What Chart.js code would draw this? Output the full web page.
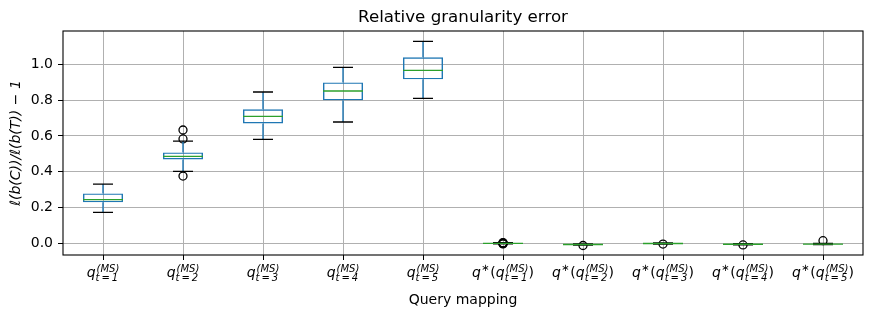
<!DOCTYPE html>
<html>
<head>
<meta charset="utf-8">
<script src="https://cdn.jsdelivr.net/npm/chart.js@4.4.1/dist/chart.umd.min.js"></script>
<style>
    body { margin: 0; background: #fff; }
    #wrap { width: 873px; height: 317px; }
</style>
</head>
<body>
<div id="wrap"><canvas id="granularityChart"></canvas></div>
<script>
// categories (query mappings) and tick label parts
const categories = ['q_t=1', 'q_t=2', 'q_t=3', 'q_t=4', 'q_t=5', 'q*(q_t=1)', 'q*(q_t=2)', 'q*(q_t=3)', 'q*(q_t=4)', 'q*(q_t=5)'];
const tickStep = ['1', '2', '3', '4', '5', '1', '2', '3', '4', '5'];
const tickWrapped = [false, false, false, false, false, true, true, true, true, true];
const yTicks = [0.0, 0.2, 0.4, 0.6, 0.8, 1.0];
const chartTitle = 'Relative granularity error';

// box plot statistics
const boxMin    = [0.173, 0.402, 0.581, 0.678, 0.810, -0.003, -0.009, -0.004, -0.008, -0.007];
const boxQ1     = [0.229, 0.469, 0.670, 0.799, 0.916, -0.001, -0.007, -0.002, -0.006, -0.005];
const boxMedian = [0.244, 0.486, 0.709, 0.851, 0.966,  0.000, -0.006, -0.001, -0.005, -0.004];
const boxQ3     = [0.279, 0.508, 0.749, 0.899, 1.039,  0.001, -0.005,  0.000, -0.004, -0.003];
const boxMax    = [0.331, 0.571, 0.845, 0.983, 1.128,  0.003, -0.003,  0.002, -0.002, -0.001];
const outliers  = [[], [0.633, 0.583, 0.376], [], [], [], [0.004, -0.003, 0.002, -0.001, 0.0], [-0.012], [-0.004], [-0.009], [0.015]];

const FONT = '"DejaVu Sans", sans-serif';
Chart.defaults.font.family = FONT;
Chart.defaults.color = '#000';

const flierPoints = [];
outliers.forEach((list, i) => list.forEach(v => flierPoints.push({ x: categories[i], y: v })));

// whiskers, caps and medians go on top of the box dataset
const boxExtras = {
    id: 'boxExtras',
    afterDatasetDraw(chart, args) {
        if (args.index !== 0) return;
        const ctx = chart.ctx;
        const xs = chart.scales.x, ys = chart.scales.y;
        const meta = chart.getDatasetMeta(0);
        ctx.save();
        ctx.lineCap = 'butt';
        categories.forEach((c, i) => {
            const x = xs.getPixelForValue(i);
            const half = meta.data[i].width / 2;
            // whiskers
            ctx.strokeStyle = '#1f77b4';
            ctx.lineWidth = 1.4;
            ctx.beginPath();
            ctx.moveTo(x, ys.getPixelForValue(boxQ3[i]));
            ctx.lineTo(x, ys.getPixelForValue(boxMax[i]));
            ctx.moveTo(x, ys.getPixelForValue(boxQ1[i]));
            ctx.lineTo(x, ys.getPixelForValue(boxMin[i]));
            ctx.stroke();
            // caps
            ctx.strokeStyle = '#000';
            ctx.beginPath();
            ctx.moveTo(x - half / 2, ys.getPixelForValue(boxMax[i]));
            ctx.lineTo(x + half / 2, ys.getPixelForValue(boxMax[i]));
            ctx.moveTo(x - half / 2, ys.getPixelForValue(boxMin[i]));
            ctx.lineTo(x + half / 2, ys.getPixelForValue(boxMin[i]));
            ctx.stroke();
            // median
            ctx.strokeStyle = '#2ca02c';
            ctx.beginPath();
            ctx.moveTo(x - half, ys.getPixelForValue(boxMedian[i]));
            ctx.lineTo(x + half, ys.getPixelForValue(boxMedian[i]));
            ctx.stroke();
        });
        ctx.restore();
    }
};

// axes frame on all four sides, title over the plot area and the math style x tick labels
const frameAndLabels = {
    id: 'frameAndLabels',
    afterDraw(chart) {
        const ctx = chart.ctx;
        const a = chart.chartArea;
        ctx.save();
        ctx.strokeStyle = '#000';
        ctx.lineWidth = 1.1;
        ctx.strokeRect(a.left, a.top, a.right - a.left, a.bottom - a.top);

        ctx.fillStyle = '#000';
        ctx.font = '16.7px ' + FONT;
        ctx.textAlign = 'center';
        ctx.textBaseline = 'alphabetic';
        ctx.fillText(chartTitle, (a.left + a.right) / 2, 22);

        const xs = chart.scales.x;
        const y = a.bottom + 22;
        categories.forEach((c, i) => drawTickLabel(ctx, xs.getPixelForValue(i), y, tickStep[i], tickWrapped[i]));
        ctx.restore();
    }
};

function drawTickLabel(ctx, cx, y, step, wrapped) {
    const big = 'italic 14px ' + FONT;
    const bigUp = '14px ' + FONT;
    const small = 'italic 10px ' + FONT;
    const smallUp = '10px ' + FONT;
    const sup = '(MS)';
    const sub = 't\u2009=\u2009' + step;

    const w = (font, t) => { ctx.font = font; return ctx.measureText(t).width; };
    const wq = w(big, 'q');
    const wScripts = Math.max(w(small, sup), w(small, sub));
    const wInner = wq + wScripts + 1;
    let total = wInner;
    let wStar = 0, wOpen = 0, wClose = 0;
    if (wrapped) {
        wStar = w(smallUp, '\u2217') + 1;
        wOpen = w(bigUp, '(');
        wClose = w(bigUp, ')');
        total = wq + wStar + wOpen + wInner + wClose;
    }
    let x = cx - total / 2;
    ctx.textAlign = 'left';
    if (wrapped) {
        ctx.font = big; ctx.fillText('q', x, y); x += wq;
        ctx.font = smallUp; ctx.fillText('\u2217', x, y - 6); x += wStar;
        ctx.font = bigUp; ctx.fillText('(', x, y); x += wOpen;
    }
    ctx.font = big; ctx.fillText('q', x, y); x += wq;
    ctx.font = small;
    ctx.fillText(sup, x + 1, y - 5);
    ctx.fillText(sub, x, y + 4);
    x += wScripts + 1;
    if (wrapped) {
        ctx.font = bigUp; ctx.fillText(')', x, y);
    }
}

new Chart(document.getElementById('granularityChart').getContext('2d'), {
    type: 'bar',
    data: {
        labels: categories,
        datasets: [{
            label: 'box',
            data: boxQ1.map((q, i) => [q, boxQ3[i]]),
            backgroundColor: 'rgba(0,0,0,0)',
            borderColor: '#1f77b4',
            borderWidth: 1.4,
            borderSkipped: false,
            barPercentage: 0.5,
            categoryPercentage: 1.0
        }, {
            type: 'line',
            label: 'fliers',
            data: flierPoints,
            showLine: false,
            pointStyle: 'circle',
            pointRadius: 4,
            pointBorderWidth: 1.3,
            pointBorderColor: '#000',
            pointBackgroundColor: 'rgba(0,0,0,0)'
        }]
    },
    options: {
        responsive: true,
        maintainAspectRatio: false,
        animation: false,
        layout: { padding: { left: 0, right: 10, top: 31, bottom: 0 } },
        plugins: {
            legend: { display: false },
            tooltip: { enabled: false },
            title: { display: false }
        },
        scales: {
            x: {
                type: 'category',
                offset: true,
                grid: { offset: false, color: '#b0b0b0', lineWidth: 1, tickColor: '#000', tickLength: 5 },
                border: { display: false },
                ticks: { display: false },
                title: {
                    display: true,
                    text: 'Query mapping',
                    font: { size: 14, lineHeight: 1.2 },
                    padding: { top: 0, bottom: 8 }
                },
                afterFit: s => { s.height = 62; }
            },
            y: {
                min: -0.065,
                max: 1.186,
                afterBuildTicks: s => { s.ticks = yTicks.map(v => ({ value: v })); },
                grid: { color: '#b0b0b0', lineWidth: 1, tickColor: '#000', tickLength: 5 },
                border: { display: false },
                ticks: {
                    font: { size: 14 },
                    padding: 5,
                    callback: v => v.toFixed(1)
                },
                title: {
                    display: true,
                    text: 'ℓ(b(C))/ℓ(b(T)) − 1',
                    font: { size: 14, style: 'italic', lineHeight: 1.2 },
                    padding: { top: 8, bottom: 0 }
                },
                afterFit: s => { s.width = 63; }
            }
        }
    },
    plugins: [boxExtras, frameAndLabels]
});
</script>
</body>
</html>
